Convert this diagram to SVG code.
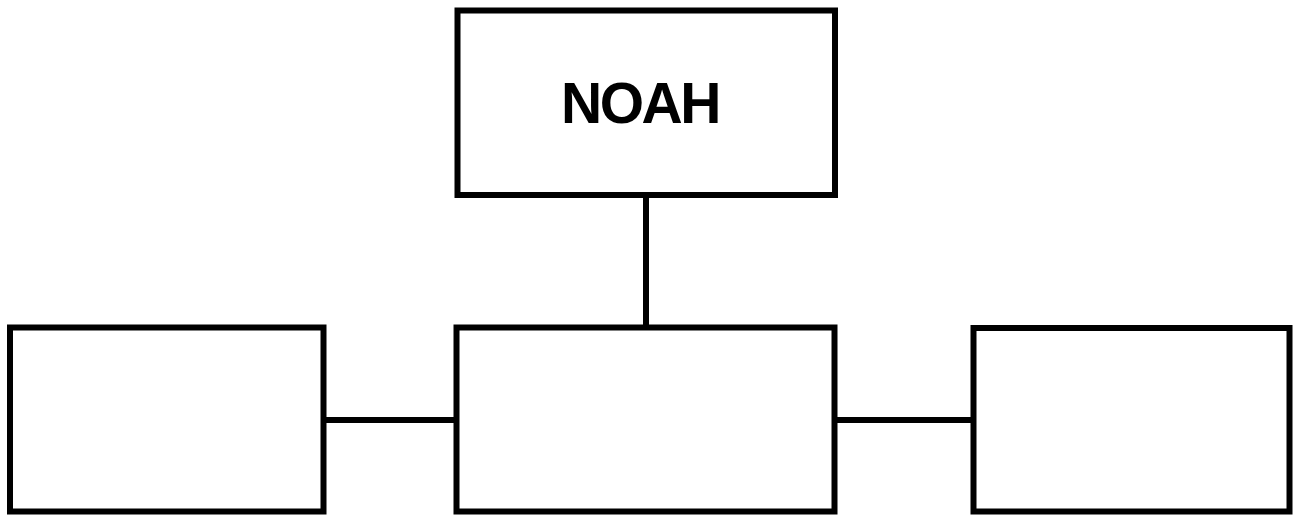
<svg xmlns="http://www.w3.org/2000/svg" width="1294" height="516" viewBox="0 0 1294 516">
<style>
.box{fill:#fff;stroke:#000;stroke-width:6}
.conn{stroke:#000;stroke-width:6;fill:none}
.lbl{font-family:"Liberation Sans",Arial,sans-serif;font-weight:bold;font-size:57px;fill:#000;letter-spacing:-2.5px}
</style>
<rect width="1294" height="516" fill="#fff"/>
<g id="connectors">
<line class="conn" x1="646" y1="195" x2="646" y2="328"/>
<line class="conn" x1="323" y1="420" x2="457" y2="420"/>
<line class="conn" x1="835" y1="420" x2="974" y2="420"/>
</g>
<g id="noah">
<rect class="box" x="457.5" y="10.5" width="377.5" height="184.5"/>
<text class="lbl" x="640" y="123" text-anchor="middle">NOAH</text>
</g>
<g id="left">
<rect class="box" x="10" y="327.5" width="313.5" height="184"/>
</g>
<g id="middle">
<rect class="box" x="456.5" y="327.5" width="378" height="184"/>
</g>
<g id="right">
<rect class="box" x="973.5" y="328" width="316" height="183.5"/>
</g>
</svg>
